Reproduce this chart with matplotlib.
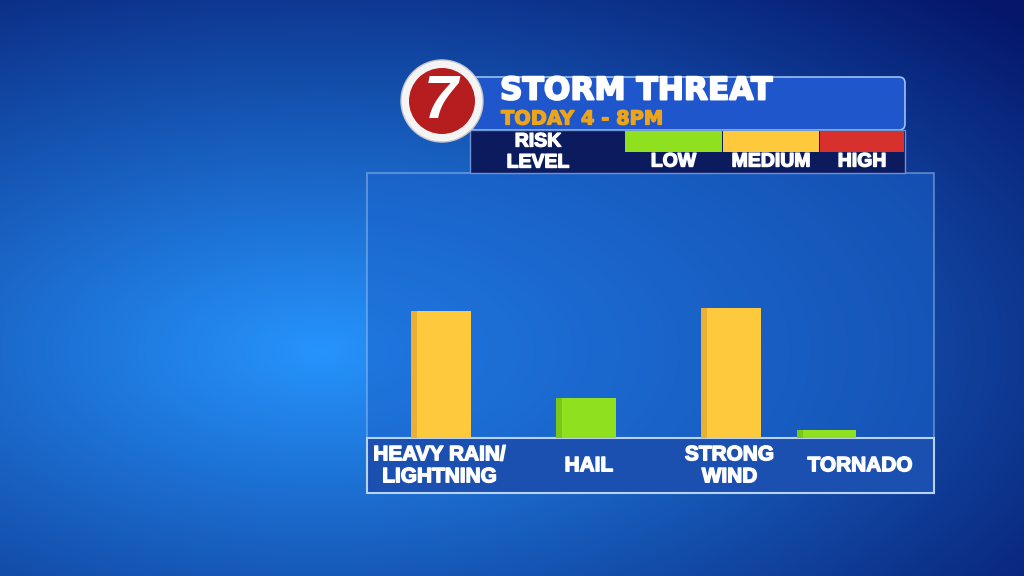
import numpy as np
import matplotlib
matplotlib.use("Agg")
import matplotlib.pyplot as plt
import matplotlib.patheffects as pe
from matplotlib.patches import Rectangle, Circle, FancyBboxPatch

# data
categories = ["HEAVY RAIN/\nLIGHTNING", "HAIL", "STRONG\nWIND", "TORNADO"]
risk_values = [48, 15, 49, 3]
risk_levels = ["MEDIUM", "LOW", "MEDIUM", "LOW"]
level_names = ["LOW", "MEDIUM", "HIGH"]
level_colors = {"LOW": "#8fe01e", "MEDIUM": "#ffc93e", "HIGH": "#d8302c"}
title = "STORM THREAT"
subtitle = "TODAY 4 - 8PM"

# layout (bar and label slots are not evenly spaced on the graphic)
bar_pos = [0.0, 1.0, 2.0, 2.66]
label_pos = [-0.01, 1.02, 1.99, 2.89]
font = "Liberation Sans"


def heavy(c, w=1.0):
    # thicken glyphs a little, the broadcast font is a black weight
    return [pe.withStroke(linewidth=w, foreground=c)]


fig = plt.figure(figsize=(10.24, 5.76), dpi=100)

# background gradient
bg = fig.add_axes([0, 0, 1, 1])
bg.set_axis_off()
yy, xx = np.mgrid[0:576, 0:1024]
d = np.sqrt(((xx - 320) / 660.0) ** 2 + ((yy - 350) / 330.0) ** 2)
d = np.clip(d, 0, 1.45) / 1.45
c0 = np.array([0.15, 0.58, 0.99])
c1 = np.array([0.02, 0.09, 0.42])
img = c0[None, None, :] * (1 - d[..., None]) + c1[None, None, :] * d[..., None]
bg.imshow(img, extent=[0, 1024, 576, 0], aspect="auto")
bg.set_xlim(0, 1024)
bg.set_ylim(576, 0)

# chart panel + category band
bg.add_patch(Rectangle((367, 173), 567, 265, facecolor="#1a63cc", alpha=0.55,
                       edgecolor="#9fc4f0", lw=1.2))
bg.add_patch(Rectangle((367, 438), 567, 55, facecolor="#1b4fb0",
                       edgecolor="#b8d2f2", lw=1.5))

# header
bg.add_patch(FancyBboxPatch((470, 77), 435, 53, boxstyle="round,pad=0,rounding_size=6",
                            facecolor="#1f56cc", edgecolor="#9cc0f0", lw=1.2))
bg.add_patch(Rectangle((470, 130), 435, 43, facecolor="#0c1a5e", edgecolor="#6f92d0", lw=1))
sw_x = [625, 723, 820]
sw_w = [97, 96, 84]
for x, w, name in zip(sw_x, sw_w, level_names):
    bg.add_patch(Rectangle((x, 131), w, 21, facecolor=level_colors[name], lw=0))
    bg.text(x + w / 2, 162, name, color="white", fontsize=14, fontweight="bold",
            family=font, ha="center", va="center", path_effects=heavy("white"))
bg.text(538, 142, "RISK", color="white", fontsize=14, fontweight="bold",
        family=font, ha="center", va="center", path_effects=heavy("white"))
bg.text(538, 163, "LEVEL", color="white", fontsize=14, fontweight="bold",
        family=font, ha="center", va="center", path_effects=heavy("white"))
bg.text(500, 91, title, color="white", fontsize=22.5, fontweight="bold",
        family="DejaVu Sans", ha="left", va="center", path_effects=heavy("white", 1.4))
bg.text(501, 119, subtitle, color="#eca51a", fontsize=14, fontweight="bold",
        family="DejaVu Sans", ha="left", va="center", path_effects=heavy("#eca51a", 0.9))

# logo
bg.add_patch(Circle((442, 101), 41, facecolor="#f4f4f4", edgecolor="#c8c8c8", lw=1))
bg.add_patch(Circle((442, 101), 33, facecolor="#b51d1f", lw=0))
bg.text(441, 103, "7", color="white", fontsize=44, fontweight="bold", style="italic",
        family=font, ha="center", va="center")

# bar chart
ax = fig.add_axes([367 / 1024, (576 - 438) / 576, 567 / 1024, 265 / 576])
ax.set_facecolor("none")
colors = [level_colors[l] for l in risk_levels]
bars = ax.bar(bar_pos, risk_values, width=0.41, color=colors, zorder=2)
# darker left edge for a bit of shading
for b, lvl in zip(bars, risk_levels):
    shade = "#d99a2a" if lvl == "MEDIUM" else "#6bb414"
    ax.bar(b.get_x() + b.get_width() * 0.05, b.get_height(), width=b.get_width() * 0.1,
           color=shade, alpha=0.55, zorder=3)
ax.set_xlim(-0.51, 3.4)
ax.set_ylim(0, 100)
ax.set_yticks([])
ax.set_xticks(label_pos)
ax.set_xticklabels(categories, color="white", fontsize=15, fontweight="bold",
                   family=font, linespacing=1.2)
for t in ax.get_xticklabels():
    t.set_va("center")
    t.set_path_effects(heavy("white"))
ax.tick_params(axis="x", length=0, pad=20)
for s in ax.spines.values():
    s.set_visible(False)

fig.savefig("out.png", dpi=100)
